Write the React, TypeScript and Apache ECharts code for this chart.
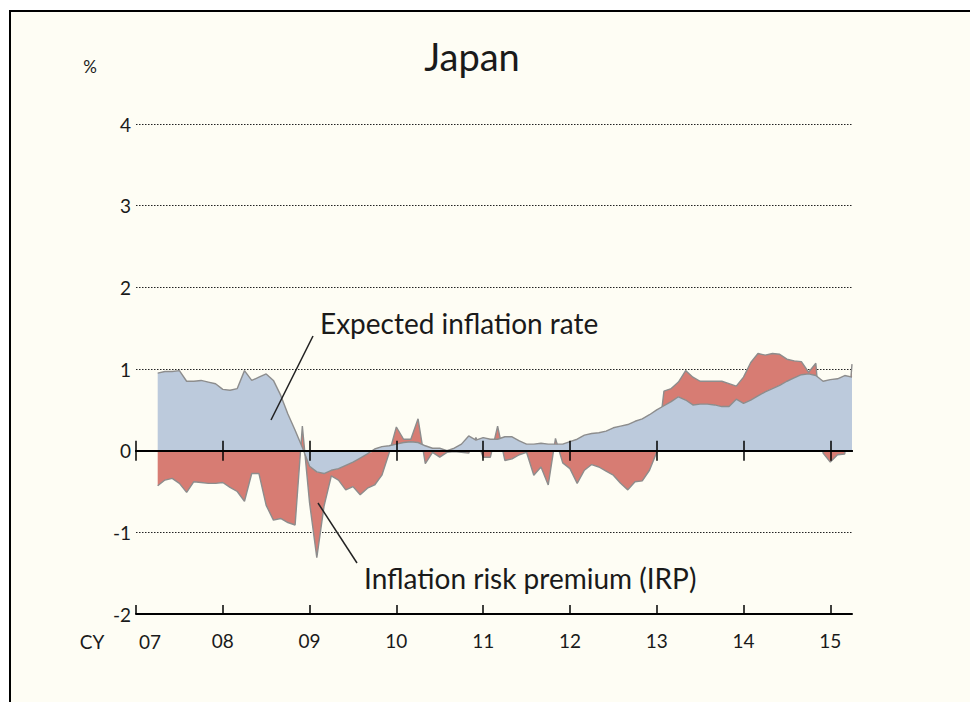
import React, { useEffect, useRef } from "react";
import * as echarts from "echarts";

// Monthly categories, Jan 2007 .. Apr 2015
const startYear = 2007;
const monthCount = 100;
const months: string[] = [];
for (let i = 0; i < monthCount; i++) {
  const y = startYear + Math.floor(i / 12);
  const m = (i % 12) + 1;
  months.push(`${y}-${m < 10 ? "0" + m : m}`);
}

const yearLabels = ["07", "08", "09", "10", "11", "12", "13", "14", "15"];

// Expected inflation rate (%)
const expected: (number | null)[] = [
  null, null, null, 0.95, 0.97, 0.97, 0.98, 0.85, 0.85, 0.86, 0.84, 0.82,
  0.75, 0.74, 0.76, 0.98, 0.86, 0.90, 0.94, 0.86, 0.68, 0.45, 0.25, 0.04,
  -0.19, -0.26, -0.28, -0.24, -0.22, -0.18, -0.14, -0.09, -0.04, 0.02, 0.05, 0.06,
  0.08, 0.10, 0.11, 0.10, 0.06, 0.03, 0.03, 0.0, 0.03, 0.08, 0.18, 0.13,
  0.16, 0.14, 0.14, 0.17, 0.17, 0.12, 0.08, 0.08, 0.09, 0.08, 0.08, 0.08,
  0.11, 0.14, 0.19, 0.21, 0.22, 0.24, 0.28, 0.30, 0.32, 0.36, 0.39, 0.44,
  0.50, 0.55, 0.60, 0.66, 0.62, 0.56, 0.57, 0.57, 0.56, 0.54, 0.54, 0.63,
  0.58, 0.62, 0.67, 0.72, 0.76, 0.80, 0.85, 0.89, 0.93, 0.94, 0.92, 0.85,
  0.87, 0.88, 0.92, 0.90,
];

// Inflation risk premium (%)
const irp: (number | null)[] = [
  null, null, null, -0.43, -0.36, -0.34, -0.40, -0.51, -0.38, -0.39, -0.40, -0.40,
  -0.39, -0.45, -0.50, -0.62, -0.28, -0.28, -0.67, -0.85, -0.83, -0.88, -0.91, 0.26,
  -0.45, -1.05, -0.40, -0.07, -0.14, -0.30, -0.30, -0.45, -0.42, -0.42, -0.30, -0.03,
  0.21, 0.04, 0.03, 0.29, -0.16, -0.02, -0.08, -0.02, -0.01, -0.02, -0.03, 0.03,
  -0.08, -0.08, 0.16, -0.12, -0.10, -0.05, -0.02, -0.30, -0.20, -0.42, 0.07, -0.15,
  -0.22, -0.40, -0.24, -0.17, -0.20, -0.25, -0.30, -0.40, -0.48, -0.38, -0.37, -0.24,
  -0.02, 0.18, 0.16, 0.18, 0.36, 0.34, 0.28, 0.28, 0.29, 0.31, 0.28, 0.16,
  0.32, 0.46, 0.52, 0.45, 0.43, 0.38, 0.27, 0.21, 0.16, 0.02, 0.15, -0.03,
  -0.14, -0.05, -0.04, 0.16,
];

const FONT = "Lato";
const TXT = "#1a1a1a";
const TICK_FS = 19;

export default function App() {
  const ref = useRef<HTMLDivElement>(null);

  useEffect(() => {
    if (!ref.current) return;
    const chart = echarts.init(ref.current, undefined, { renderer: "svg" });
    const isJan = (i: number) => i % 12 === 0;

    const zeroAxisBase = {
      type: "category" as const,
      data: months,
      boundaryGap: false,
      position: "bottom" as const,
      z: 10,
      axisLine: { show: true, onZero: true, onZeroAxisIndex: 0, lineStyle: { color: "#000", width: 2 } },
      axisLabel: { show: false },
      splitLine: { show: false },
    };

    chart.setOption({
      animation: false,
      backgroundColor: "transparent",
      textStyle: { fontFamily: FONT },
      grid: { left: 136, right: 118, top: 124, bottom: 88, containLabel: false },
      xAxis: [
        {
          type: "category",
          data: months,
          boundaryGap: false,
          position: "bottom",
          z: 10,
          axisLine: { show: true, onZero: false, lineStyle: { color: "#000", width: 2 } },
          axisTick: {
            show: true,
            inside: true,
            length: 9,
            interval: (i: number) => isJan(i),
            lineStyle: { color: "#000", width: 1.5 },
          },
          axisLabel: {
            show: true,
            interval: (i: number) => isJan(i),
            formatter: (_v: string, i: number) => (i === 0 ? "" : yearLabels[i / 12]),
            margin: 17,
            fontSize: TICK_FS,
            color: TXT,
            fontFamily: FONT,
          },
          splitLine: { show: false },
        },
        {
          ...zeroAxisBase,
          axisTick: {
            show: true,
            inside: true,
            length: 10,
            interval: (i: number) => isJan(i),
            lineStyle: { color: "#000", width: 1.5 },
          },
        },
        {
          ...zeroAxisBase,
          axisTick: {
            show: true,
            inside: false,
            length: 10,
            interval: (i: number) => isJan(i),
            lineStyle: { color: "#000", width: 1.5 },
          },
        },
      ],
      yAxis: {
        type: "value",
        min: -2,
        max: 4,
        interval: 1,
        axisLine: { show: false },
        axisTick: { show: false },
        axisLabel: { margin: 5, fontSize: TICK_FS, color: TXT, fontFamily: FONT },
        splitLine: { show: true, lineStyle: { color: "#222", type: [1.5, 1.5], width: 1 } },
      },
      series: [
        {
          name: "Expected inflation rate",
          type: "line",
          stack: "total",
          data: expected,
          showSymbol: false,
          z: 3,
          lineStyle: { color: "#8d8d8d", width: 1.4 },
          areaStyle: { color: "#BCCADC", opacity: 1 },
        },
        {
          name: "Inflation risk premium (IRP)",
          type: "line",
          stack: "total",
          data: irp,
          showSymbol: false,
          z: 2,
          lineStyle: { color: "#8d8d8d", width: 1.4 },
          areaStyle: { color: "#D77C73", opacity: 1 },
        },
      ],
      graphic: [
        {
          type: "rect",
          z: -10,
          silent: true,
          shape: { x: 10, y: 11, width: 980, height: 720 },
          style: { fill: "#FEFDF4", stroke: "#000", lineWidth: 2 },
        },
        {
          type: "text",
          z: 100,
          x: 472,
          y: 56,
          style: { text: "Japan", fontSize: 38, fontFamily: FONT, fill: TXT, align: "center", verticalAlign: "middle" },
        },
        {
          type: "text",
          z: 100,
          x: 90,
          y: 66,
          style: { text: "%", fontSize: 17, fontFamily: FONT, fill: TXT, align: "center", verticalAlign: "middle" },
        },
        {
          type: "text",
          z: 100,
          x: 92,
          y: 641,
          style: { text: "CY", fontSize: TICK_FS, fontFamily: FONT, fill: TXT, align: "center", verticalAlign: "middle" },
        },
        {
          type: "text",
          z: 100,
          x: 150,
          y: 641,
          style: { text: yearLabels[0], fontSize: TICK_FS, fontFamily: FONT, fill: TXT, align: "center", verticalAlign: "middle" },
        },
        {
          type: "text",
          z: 100,
          x: 320,
          y: 323,
          style: { text: "Expected inflation rate", fontSize: 28, fontFamily: FONT, fill: TXT, align: "left", verticalAlign: "middle" },
        },
        {
          type: "text",
          z: 100,
          x: 364,
          y: 578,
          style: { text: "Inflation risk premium (IRP)", fontSize: 28, fontFamily: FONT, fill: TXT, align: "left", verticalAlign: "middle" },
        },
        {
          type: "line",
          z: 100,
          shape: { x1: 313, y1: 336, x2: 271, y2: 420 },
          style: { stroke: "#222", lineWidth: 1.5 },
        },
        {
          type: "line",
          z: 100,
          shape: { x1: 318, y1: 503, x2: 357, y2: 563 },
          style: { stroke: "#222", lineWidth: 1.5 },
        },
      ],
    });

    return () => chart.dispose();
  }, []);

  return (
    <div
      ref={ref}
      style={{ position: "fixed", left: 0, top: 0, width: 970, height: 702, background: "#fff" }}
    />
  );
}
